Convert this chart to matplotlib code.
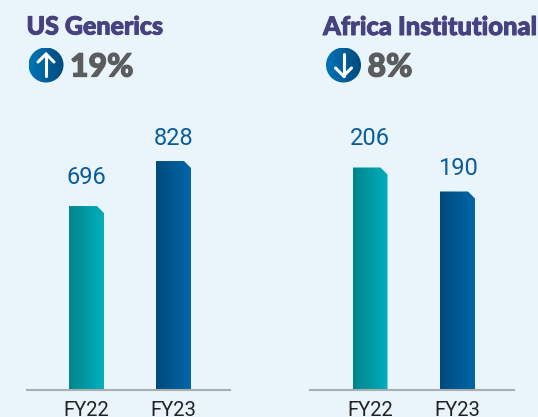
import numpy as np
import matplotlib
matplotlib.use('Agg')
import matplotlib.pyplot as plt
import matplotlib.patheffects as pe
from matplotlib.colors import LinearSegmentedColormap
from matplotlib.patches import Polygon, Circle

W, H = 538, 417
BG = '#e9f5fb'

categories = ['FY22', 'FY23']
us_values = [696, 828]
africa_values = [206, 190]
us_title = 'US Generics'
africa_title = 'Africa Institutional'
us_change = '19%'
africa_change = '8%'

teal = LinearSegmentedColormap.from_list('teal', ['#00858d', '#00afbd'])
blue = LinearSegmentedColormap.from_list('blue', ['#004a7c', '#0066a8'])
badge = LinearSegmentedColormap.from_list('badge', ['#0074b6', '#004a7c'])
grad = np.linspace(0, 1, 64).reshape(1, -1)

fig = plt.figure(figsize=(W / 100, H / 100), dpi=100, facecolor=BG)


def panel(x0, x1, centers, y_base, y_top, v_low, px_per_unit, values):
    ax = fig.add_axes([x0 / W, 1 - y_base / H, (x1 - x0) / W, (y_base - y_top) / H])
    ax.patch.set_alpha(0)
    step = centers[1] - centers[0]
    width = 35 / step
    ylim = (v_low, v_low + (y_base - y_top) / px_per_unit)
    label_offsets = [12.5, 8.2]
    for i, (v, cmap) in enumerate(zip(values, [teal, blue])):
        c = 7 / step
        dy = 7 / px_per_unit
        l, r = i - width / 2, i + width / 2
        poly = Polygon([(l, v_low), (l, v), (r - c, v), (r, v - dy), (r, v_low)],
                       closed=True, fc='none', ec='none', transform=ax.transData)
        ax.add_patch(poly)
        im = ax.imshow(grad, cmap=cmap, extent=(l, r, v_low, v), aspect='auto',
                       interpolation='bilinear', zorder=2)
        im.set_clip_path(poly)
        ax.annotate(str(v), (i, v), xytext=(0, label_offsets[i]), textcoords='offset points',
                    ha='center', va='bottom', fontsize=17, family='Roboto',
                    color='#0b5c9a')
    ax.set_xlim((x0 - centers[0]) / step, (x1 - centers[0]) / step)
    ax.set_ylim(*ylim)
    for s in ['top', 'left', 'right']:
        ax.spines[s].set_visible(False)
    ax.spines['bottom'].set_color('#a9aeb1')
    ax.spines['bottom'].set_linewidth(1.5)
    ax.set_yticks([])
    ax.set_xticks(range(len(categories)))
    ax.set_xticklabels(categories, family='Roboto', fontsize=14.6, color='#222222')
    ax.tick_params(axis='x', length=0, pad=8)
    return ax


panel(27, 230, [86.5, 173.5], 389.5, 120, 158, 0.341, us_values)
panel(310, 514, [370, 457.5], 389.5, 120, 58, 1.5, africa_values)

ov = fig.add_axes([0, 0, 1, 1])
ov.set_xlim(0, W)
ov.set_ylim(H, 0)
ov.axis('off')
ov.patch.set_alpha(0)


def header(x_title, title, title_size, cx, change, up):
    t = ov.text(x_title, 27, title, family='Lato', weight='black', fontsize=title_size,
                color='#46427f', va='center', ha='left')
    t.set_path_effects([pe.withStroke(linewidth=0.7, foreground='#46427f')])
    circ = Circle((cx, 65), 17.5, fc='none', ec='none', transform=ov.transData)
    ov.add_patch(circ)
    im = ov.imshow(grad, cmap=badge, extent=(cx - 17.5, cx + 17.5, 82.5, 47.5),
                   aspect='auto', interpolation='bilinear')
    im.set_clip_path(circ)
    tip, tail = (54, 76) if up else (76, 54)
    wing = tip + (8 if up else -8)
    ov.plot([cx, cx], [tip, tail], color='white', lw=2.2, solid_capstyle='round')
    ov.plot([cx - 8, cx, cx + 8], [wing, tip, wing], color='white', lw=2.2,
            solid_capstyle='round', solid_joinstyle='miter')
    t2 = ov.text(cx + 24, 67, change, family='Lato', weight='black', fontsize=23,
                 color='#5a5c5e', va='center', ha='left')
    t2.set_path_effects([pe.withStroke(linewidth=0.9, foreground='#5a5c5e')])


header(26.5, us_title, 18.0, 46, us_change, True)
header(323, africa_title, 18.4, 343.5, africa_change, False)
ov.set_xlim(0, W)
ov.set_ylim(H, 0)

fig.savefig('out.png', dpi=100, facecolor=BG)
